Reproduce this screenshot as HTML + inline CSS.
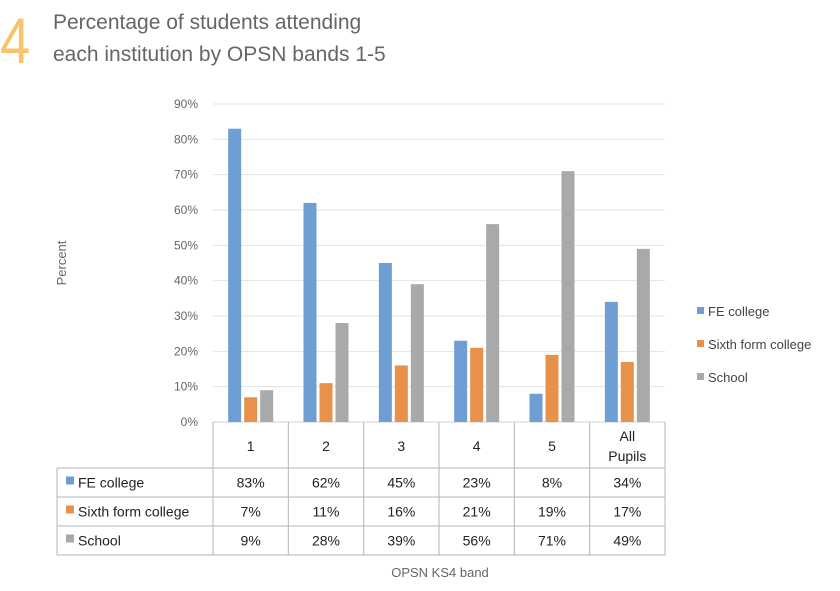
<!DOCTYPE html>
<html><head><meta charset="utf-8"><style>
body{margin:0;background:#fff;width:840px;height:586px;overflow:hidden;font-family:"Liberation Sans",sans-serif}
</style></head><body>
<svg width="840" height="586" xmlns="http://www.w3.org/2000/svg" id="svg">
<text x="0" y="63" font-size="64" fill="#f7c46c" font-family="Liberation Sans" transform="scale(0.85,1)">4</text>
<text x="53" y="29" font-size="21" fill="#666">Percentage of students attending</text>
<text x="53" y="61" font-size="21" fill="#666">each institution by OPSN bands 1-5</text>
<text x="66" y="263" font-size="13" fill="#666" transform="rotate(-90 66 263)" text-anchor="middle">Percent</text>
<text x="440" y="577" font-size="13" fill="#666" text-anchor="middle">OPSN KS4 band</text>
<g id="grid"></g><g id="bars"></g><g id="table"></g><g id="legend"></g>
</svg>
<script>
const categories=["1","2","3","4","5","All Pupils"];
const seriesNames=["FE college","Sixth form college","School"];
const feCollege=[83,62,45,23,8,34];
const sixthForm=[7,11,16,21,19,17];
const school=[9,28,39,56,71,49];
const yTicks=[0,10,20,30,40,50,60,70,80,90];
const NS="http://www.w3.org/2000/svg";
const colors=["#6f9ed4","#e8914a","#a9a9a9"];
const series=[feCollege,sixthForm,school];
const x0=213,x1=665,yBase=422,yTop=104,yMax=90;
const colW=(x1-x0)/categories.length;
const yScale=v=>yBase-(v/yMax)*(yBase-yTop);
const xCenter=i=>x0+colW*(i+0.5);
function mk(tag,attrs,parent){const e=document.createElementNS(NS,tag);for(const k in attrs)e.setAttribute(k,attrs[k]);parent.appendChild(e);return e;}
const grid=document.getElementById('grid');
yTicks.forEach(t=>{
  const y=yScale(t);
  const l=mk('line',{x1:x0,x2:x1,y1:y,y2:y,stroke:t===0?'#d0d0d0':'#e3e3e3','stroke-width':1},grid);
  
  
  const tx=mk('text',{x:198,y:y+4,'font-size':12,fill:'#666','text-anchor':'end'},grid);
  tx.textContent=t+'%';
  
  
});
const bars=document.getElementById('bars');
const bw=13,off=[-16,0,16];
series.forEach((s,si)=>s.forEach((v,i)=>{
  const y=yScale(v);
  const r=mk('rect',{x:xCenter(i)+off[si]-bw/2,y:y,width:bw,height:yBase-y,fill:colors[si]},bars);
  
  
}));
const tb=document.getElementById('table');
const rowY=[468,497,526,555];
const st='#b5b5b5';
for(let i=0;i<=categories.length;i++){
  const x=x0+colW*i;
  const l=mk('line',{x1:x,x2:x,y1:yBase,y2:555,stroke:st},tb);
  
  
}
const lv=mk('line',{x1:57,x2:57,y1:468,y2:555,stroke:st},tb);


rowY.forEach(y=>{
  const l=mk('line',{x1:57,x2:x1,y1:y,y2:y,stroke:st},tb);
  
  
});
categories.forEach((c,i)=>{
  if(c==="All Pupils"){
    const t1=mk('text',{x:xCenter(i),y:441,'font-size':14,fill:'#222','text-anchor':'middle'},tb);t1.textContent='All';
    
    
    const t2=mk('text',{x:xCenter(i),y:461,'font-size':14,fill:'#222','text-anchor':'middle'},tb);t2.textContent='Pupils';
    
    
  } else {
    const t=mk('text',{x:xCenter(i),y:451,'font-size':14,fill:'#222','text-anchor':'middle'},tb);t.textContent=c;
    
    
  }
});
series.forEach((s,si)=>{
  const yc=(rowY[si]+rowY[si+1])/2;
  const sw=mk('rect',{x:66,y:yc-6,width:8,height:8,fill:colors[si]},tb);
  
  
  const n=mk('text',{x:78,y:yc+5,'font-size':14,fill:'#222'},tb);n.textContent=seriesNames[si];
  
  
  s.forEach((v,i)=>{
    const t=mk('text',{x:xCenter(i),y:yc+5,'font-size':14,fill:'#222','text-anchor':'middle'},tb);t.textContent=v+'%';
    
    
  });
});
const lg=document.getElementById('legend');
const ly=[312,345,378];
seriesNames.forEach((n,si)=>{
  const r=mk('rect',{x:697,y:ly[si]-5,width:7,height:7,fill:colors[si]},lg);
  
  
  const t=mk('text',{x:708,y:ly[si]+4,'font-size':13,fill:'#444'},lg);t.textContent=n;
  
  
});
</script>
</body></html>
